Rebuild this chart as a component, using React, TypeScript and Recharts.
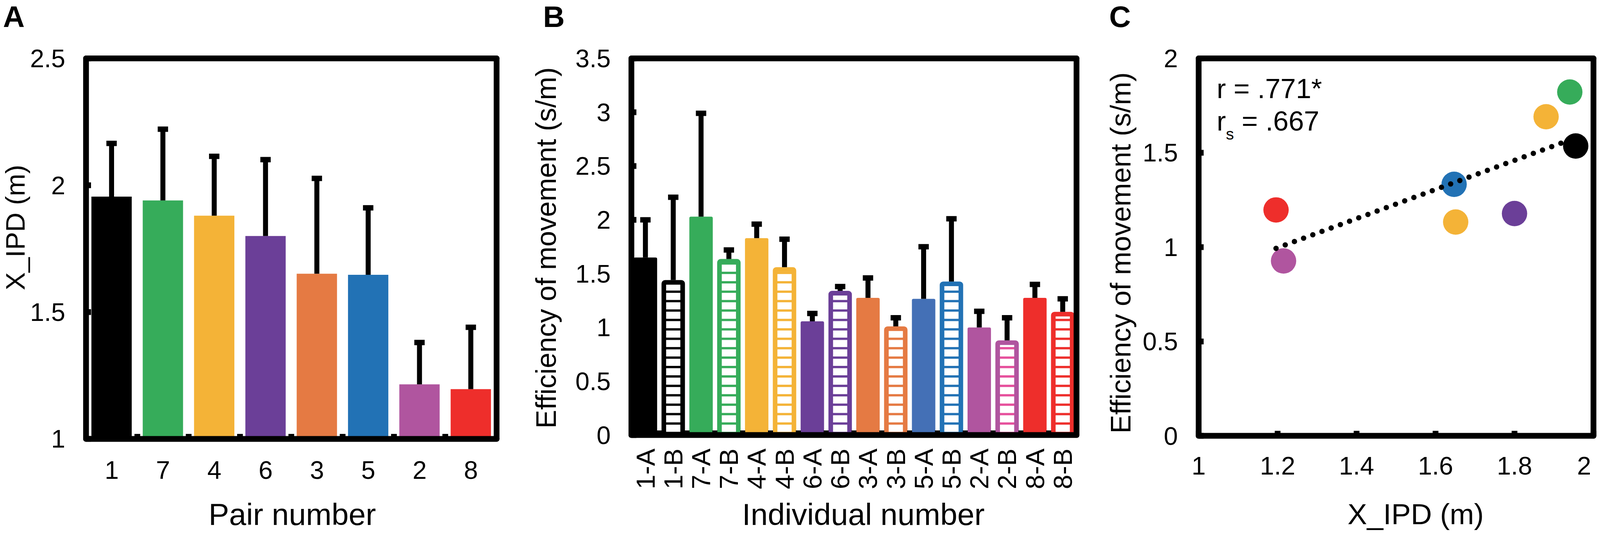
import React from 'react';
import { BarChart, Bar, XAxis, YAxis, ScatterChart, Scatter, Cell } from 'recharts';

const FONT = '"Liberation Sans", Arial, Helvetica, sans-serif';

// Panel A: X_IPD per pair (mean and upper SD)
const pairs = ['1', '7', '4', '6', '3', '5', '2', '8'];
const xipdMean = [1.955, 1.94, 1.88, 1.8, 1.651, 1.647, 1.215, 1.196];
const xipdErr = [0.21, 0.281, 0.234, 0.301, 0.376, 0.264, 0.165, 0.244];

// Panel B: efficiency of movement per individual
const individuals = ['1-A', '1-B', '7-A', '7-B', '4-A', '4-B', '6-A', '6-B', '3-A', '3-B', '5-A', '5-B', '2-A', '2-B', '8-A', '8-B'];
const effMean = [1.65, 1.44, 2.03, 1.636, 1.83, 1.56, 1.057, 1.34, 1.275, 1.01, 1.266, 1.427, 1.0, 0.88, 1.275, 1.145];
const effErr = [0.35, 0.77, 0.96, 0.084, 0.13, 0.26, 0.073, 0.04, 0.185, 0.08, 0.484, 0.583, 0.15, 0.21, 0.125, 0.121];

// Panel C: pair efficiency against X_IPD
const effPair = [1.536, 1.822, 1.691, 1.178, 1.133, 1.333, 0.927, 1.197];

const ticksA = [1, 1.5, 2, 2.5];
const ticksB = [0, 0.5, 1, 1.5, 2, 2.5, 3, 3.5];
const ticksCx = [1, 1.2, 1.4, 1.6, 1.8, 2];
const ticksCy = [0, 0.5, 1, 1.5, 2];

const pairColors = ['#000000', '#36AC5A', '#F4B337', '#6B3F98', '#E57A43', '#2272B5', '#B0559F', '#EE2E2B'];
const individualColors = ['#000000', '#000000', '#36AC5A', '#36AC5A', '#F4B337', '#F4B337', '#6B3F98', '#6B3F98',
  '#E57A43', '#E57A43', '#4470B6', '#2272B5', '#B0559F', '#B0559F', '#EE2E2B', '#EE2E2B'];
const stripeColors = ['#000000', '#000000', '#36AC5A', '#36AC5A', '#F4B337', '#F4B337', '#6B3F98', '#6B3F98',
  '#E57A43', '#E57A43', '#4470B6', '#2272B5', '#B0559F', '#E6509C', '#EE2E2B', '#EE2E2B'];
const scatterColors = ['#000000', '#36AC5A', '#F4B337', '#6B3F98', '#F4B337', '#2272B5', '#B0559F', '#EE2E2B'];

const dataA = pairs.map((p, i) => ({ pair: p, mean: xipdMean[i], err: xipdErr[i] }));
const dataB = individuals.map((id, i) => ({ id, mean: effMean[i], err: effErr[i] }));
const dataC = pairs.map((p, i) => ({ pair: p, x: xipdMean[i], y: effPair[i] }));

// least squares trend line over the range of X
const n = xipdMean.length;
const mx = xipdMean.reduce((a, b) => a + b, 0) / n;
const my = effPair.reduce((a, b) => a + b, 0) / n;
let sxy = 0;
let sxx = 0;
for (let i = 0; i < n; i++) {
  sxy += (xipdMean[i] - mx) * (effPair[i] - my);
  sxx += (xipdMean[i] - mx) ** 2;
}
const slope = sxy / sxx;
const icept = my - slope * mx;
const xMin = Math.min(...xipdMean);
const xMax = Math.max(...xipdMean);
const trend = [
  { x: xMin, y: icept + slope * xMin },
  { x: xMax, y: icept + slope * xMax },
];

const frame = { stroke: '#000', strokeWidth: 15, strokeLinecap: 'round' as const };

const W = 4166;
const H = 1384;

// plot areas (page pixels)
const A = { left: 224, right: 1293, top: 152, bottom: 1142 };
const B = { left: 1644, right: 2803, top: 152, bottom: 1132 };
const C = { left: 3121, right: 4149, top: 152, bottom: 1134 };
const bandA = (A.right - A.left) / pairs.length;
const bandB = (B.right - B.left) / individuals.length;

const YTick = (props: any) => {
  const { x, y, payload } = props;
  return (
    <g>
      <rect x={x} y={y - 7.5} width={13} height={15} fill="#000" />
      <text x={x - 54} y={y + 23} textAnchor="end" fontSize={66} fontFamily={FONT} fill="#000">
        {payload.value}
      </text>
    </g>
  );
};

const XTickA = (props: any) => {
  const { x, y, payload, index } = props;
  return (
    <g>
      {index > 0 && <rect x={x - bandA / 2 - 7.5} y={y - 13} width={15} height={13} fill="#000" />}
      <text x={x} y={y + 104} textAnchor="middle" fontSize={66} fontFamily={FONT} fill="#000">
        {payload.value}
      </text>
    </g>
  );
};

const XTickB = (props: any) => {
  const { x, y, payload, index } = props;
  const tx = x + 24;
  const ty = y + 35;
  return (
    <g>
      {index > 0 && <rect x={x - bandB / 2 - 6.5} y={y - 12} width={13} height={12} fill="#000" />}
      <text x={tx} y={ty} transform={`rotate(-90, ${tx}, ${ty})`} textAnchor="end" fontSize={68} fontFamily={FONT} fill="#000">
        {payload.value}
      </text>
    </g>
  );
};

const XTickC = (props: any) => {
  const { x, y, payload, index } = props;
  const last = index === ticksCx.length - 1;
  return (
    <g>
      <rect x={x - 7.5} y={y - 13} width={15} height={13} fill="#000" />
      <text x={last ? x - 6 : x} y={y + 101} textAnchor={last ? 'end' : 'middle'} fontSize={66} fontFamily={FONT} fill="#000">
        {payload.value}
      </text>
    </g>
  );
};

const ErrShape = (props: any) => {
  const { x, y, width, height } = props;
  const cx = x + width / 2;
  return (
    <g>
      <line x1={cx} x2={cx} y1={y + height} y2={y} stroke="#000" strokeWidth={13} />
      <rect x={cx - 13.5} y={y - 7} width={27} height={14} fill="#000" />
    </g>
  );
};

const IndividualShape = (props: any) => {
  const { x, y, width, height, payload } = props;
  const i = individuals.indexOf(payload.id);
  const c = individualColors[i];
  if (payload.id.endsWith('A')) {
    return <rect x={x} y={y} width={width} height={height} rx={4} fill={c} />;
  }
  const pid = `stripe-${i}`;
  return (
    <g>
      <defs>
        <pattern id={pid} patternUnits="userSpaceOnUse" x={0} y={21} width={20} height={24.5}>
          <rect width={20} height={24.5} fill="#fff" />
          <rect width={20} height={6} fill={stripeColors[i]} />
        </pattern>
      </defs>
      <rect x={x + 6} y={y + 6} width={width - 12} height={height - 6} rx={3}
        fill={`url(#${pid})`} stroke={c} strokeWidth={12} />
    </g>
  );
};

const Dot = (props: any) => <circle cx={props.cx} cy={props.cy} r={33} fill={props.fill} />;

const Titles = () => (
  <svg width={W} height={H} style={{ position: 'absolute', left: 0, top: 0, pointerEvents: 'none', display: 'block' }}
    fontFamily={FONT} fill="#000">
    <text x={8} y={70} fontSize={78} fontWeight="bold">A</text>
    <text x={1414} y={70} fontSize={78} fontWeight="bold">B</text>
    <text x={2888} y={70} fontSize={78} fontWeight="bold">C</text>

    <text x={64} y={592} fontSize={70} textAnchor="middle" transform="rotate(-90, 64, 592)">X_IPD (m)</text>
    <text x={1447} y={645} fontSize={73} textAnchor="middle" transform="rotate(-90, 1447, 645)">
      Efficiency of movement (s/m)
    </text>
    <text x={2943} y={658} fontSize={73} textAnchor="middle" transform="rotate(-90, 2943, 658)">
      Efficiency of movement (s/m)
    </text>

    <text x={761} y={1366} fontSize={80} textAnchor="middle">Pair number</text>
    <text x={2248} y={1366} fontSize={80} textAnchor="middle">Individual number</text>
    <text x={3686} y={1364} fontSize={76} textAnchor="middle">X_IPD (m)</text>

    <text x={3168} y={255} fontSize={72}>r = .771*</text>
    <text x={3168} y={340} fontSize={72}>
      r<tspan fontSize={42} dy={23}>s</tspan><tspan dy={-23}> = .667</tspan>
    </text>
  </svg>
);

export default function App() {
  // fit the figure to the visible width in case the viewport is a little narrower
  const vw = typeof document !== 'undefined' ? document.documentElement.clientWidth || W : W;
  const s = Math.min(1, vw / W);
  if (typeof document !== 'undefined') {
    document.body.style.margin = '0';
    document.body.style.overflow = 'hidden';
  }
  return (
    <div style={{ position: 'absolute', left: 0, top: 0, width: W, height: H, overflow: 'hidden', background: '#fff',
      fontFamily: FONT, transform: s < 1 ? `scale(${s})` : undefined, transformOrigin: '0 0' }}>
      <div style={{ position: 'absolute', left: 0, top: 0, lineHeight: 0 }}>
        <BarChart width={1330} height={H} data={dataA} barSize={105}
          margin={{ top: A.top - 1, right: 1330 - A.right - 1, bottom: H - A.bottom - 100, left: A.left - 100 }}>
          <Bar dataKey="mean" stackId="a" isAnimationActive={false}>
            {dataA.map((d, i) => <Cell key={d.pair} fill={pairColors[i]} />)}
          </Bar>
          <Bar dataKey="err" stackId="a" shape={ErrShape} isAnimationActive={false} />
          <XAxis dataKey="pair" interval={0} height={100} tickSize={0} tickMargin={0} tickLine={false}
            axisLine={frame} tick={XTickA} />
          <XAxis xAxisId="top" dataKey="pair" orientation="top" height={1} tick={false} tickLine={false} axisLine={frame} />
          <YAxis domain={[1, 2.5]} ticks={ticksA} interval={0} allowDataOverflow width={100} tickSize={0}
            tickMargin={0} tickLine={false} axisLine={frame} tick={YTick} />
          <YAxis yAxisId="right" orientation="right" width={1} tick={false} tickLine={false} axisLine={frame} />
        </BarChart>
      </div>

      <div style={{ position: 'absolute', left: 1400, top: 0, lineHeight: 0 }}>
        <BarChart width={1430} height={H} data={dataB} barSize={61}
          margin={{ top: B.top - 1, right: 1430 - (B.right - 1400) - 1, bottom: H - B.bottom - 150, left: B.left - 1400 - 100 }}>
          <Bar dataKey="mean" stackId="b" shape={IndividualShape} isAnimationActive={false} />
          <Bar dataKey="err" stackId="b" shape={ErrShape} isAnimationActive={false} />
          <XAxis dataKey="id" interval={0} height={150} tickSize={0} tickMargin={0} tickLine={false}
            axisLine={frame} tick={XTickB} />
          <XAxis xAxisId="top" dataKey="id" orientation="top" height={1} tick={false} tickLine={false} axisLine={frame} />
          <YAxis domain={[0, 3.5]} ticks={ticksB} interval={0} allowDataOverflow width={100} tickSize={0}
            tickMargin={0} tickLine={false} axisLine={frame} tick={YTick} />
          <YAxis yAxisId="right" orientation="right" width={1} tick={false} tickLine={false} axisLine={frame} />
        </BarChart>
      </div>

      <div style={{ position: 'absolute', left: 2900, top: 0, lineHeight: 0 }}>
        <ScatterChart width={1266} height={H}
          margin={{ top: C.top - 1, right: 1266 - (C.right - 2900) - 1, bottom: H - C.bottom - 120, left: C.left - 2900 - 100 }}>
          <XAxis type="number" dataKey="x" domain={[1, 2]} ticks={ticksCx} interval={0} allowDataOverflow height={120}
            tickSize={0} tickMargin={0} tickLine={false} axisLine={frame} tick={XTickC} />
          <XAxis xAxisId="top" type="number" domain={[1, 2]} orientation="top" height={1} tick={false}
            tickLine={false} axisLine={frame} />
          <YAxis type="number" dataKey="y" domain={[0, 2]} ticks={ticksCy} interval={0} allowDataOverflow width={100}
            tickSize={0} tickMargin={0} tickLine={false} axisLine={frame} tick={YTick} />
          <YAxis yAxisId="right" orientation="right" width={1} tick={false} tickLine={false} axisLine={frame} />
          <Scatter data={dataC} shape={Dot} isAnimationActive={false}>
            {dataC.map((d, i) => <Cell key={d.pair} fill={scatterColors[i]} />)}
          </Scatter>
          <Scatter data={trend} shape={() => <g />} isAnimationActive={false}
            line={{ stroke: '#000', strokeWidth: 14, strokeDasharray: '0 25.5', strokeLinecap: 'round' }} />
        </ScatterChart>
      </div>

      <Titles />
    </div>
  );
}
